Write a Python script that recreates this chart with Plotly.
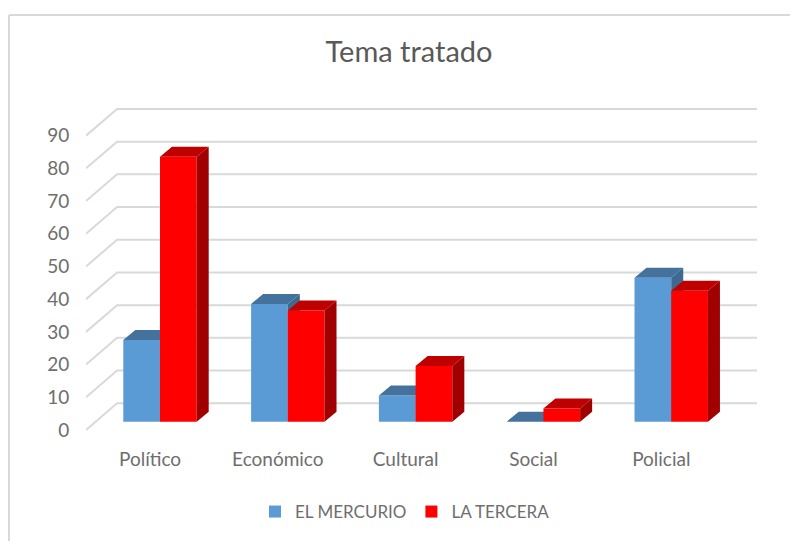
import plotly.graph_objects as go

categories = ["Político", "Económico", "Cultural", "Social", "Policial"]
el_mercurio = [25, 36, 8, 0, 44]
la_tercera = [81, 34, 17, 4, 40]
y_ticks = [0, 10, 20, 30, 40, 50, 60, 70, 80, 90]

# Oblique-projection constants, in axis units
BAR_W = 0.2872          # one bar's width
BAR_BASE = 2.54         # front plane of bars sits above the chart's front floor edge
DEPTH_X, DEPTH_Y = 0.0939, 3.06       # bar depth
WALL_X0, WALL_X1 = -0.579, -0.336     # left wall, front and back edges
WALL_Y = 8.17           # rise of the left wall
X_RIGHT = 4.671
LABEL_SHIFT = -0.078
GREY = "#d9d9d9"
TEXT = "#6e6e6e"

# The page body has an 8 px margin, so the figure is 8 px smaller and offsets are reduced
PAGE = 8
W, H = 798 - PAGE, 541 - PAGE
L, T = 86 - PAGE, 100 - PAGE
PW, PH = 671, 340

fig = go.Figure()

# Gridlines on the walls (lowest subplot layer)
for v in y_ticks:
    fig.add_trace(go.Scatter(
        x=[WALL_X0, WALL_X1, X_RIGHT], y=[v, v + WALL_Y, v + WALL_Y],
        mode="lines", line=dict(color=GREY, width=2), showlegend=False, hoverinfo="skip",
    ))


def add_series(values, name, offset, front, top, side, xa, ya):
    xs = list(range(len(values)))
    fig.add_trace(go.Bar(
        x=xs, y=values, base=[BAR_BASE] * len(values), offset=offset, width=BAR_W,
        name=name, marker=dict(color=front, line=dict(width=0)), xaxis=xa, yaxis=ya,
    ))
    for i, v in zip(xs, values):
        x0 = i + offset
        x1 = x0 + BAR_W
        y0 = BAR_BASE
        y1 = BAR_BASE + v
        fig.add_trace(go.Scatter(
            x=[x0, x1, x1 + DEPTH_X, x0 + DEPTH_X, x0],
            y=[y1, y1, y1 + DEPTH_Y, y1 + DEPTH_Y, y1],
            fill="toself", fillcolor=top, mode="lines", line=dict(width=0, color=top),
            showlegend=False, hoverinfo="skip", xaxis=xa, yaxis=ya,
        ))
        fig.add_trace(go.Scatter(
            x=[x1, x1 + DEPTH_X, x1 + DEPTH_X, x1, x1],
            y=[y0, y0 + DEPTH_Y, y1 + DEPTH_Y, y1, y0],
            fill="toself", fillcolor=side, mode="lines", line=dict(width=0, color=side),
            showlegend=False, hoverinfo="skip", xaxis=xa, yaxis=ya,
        ))


add_series(el_mercurio, "EL MERCURIO", -BAR_W, "#5b9bd5", "#44729d", "#3e6a92", "x2", "y2")
add_series(la_tercera, "LA TERCERA", 0, "#ff0000", "#bf0000", "#a00000", "x3", "y3")

font = dict(family="Lato", size=19, color=TEXT)
x_range = [WALL_X0, X_RIGHT]
y_range = [-3.06, 100.9]


def px_x(p):
    return (p - 86) / PW


def px_y(p):
    return (440 - p) / PH


fig.update_layout(
    width=W, height=H,
    margin=dict(l=L, r=W - L - PW, t=T, b=H - T - PH, autoexpand=False),
    paper_bgcolor="white", plot_bgcolor="rgba(0,0,0,0)",
    barmode="overlay",
    font=font,
    title=dict(text="Tema tratado", x=(409 - PAGE) / W, y=1 - (52 - PAGE) / H, xanchor="center", yanchor="middle",
               xref="container", yref="container",
               font=dict(family="Lato", size=29, color="#595959")),
    xaxis=dict(range=x_range, tickmode="array",
               tickvals=[i + LABEL_SHIFT for i in range(len(categories))], ticktext=categories,
               showgrid=False, zeroline=False, showline=False, ticks="outside", ticklen=2,
               tickcolor="rgba(0,0,0,0)", tickfont=font),
    yaxis=dict(range=y_range, tickmode="array", tickvals=y_ticks, ticktext=[str(t) for t in y_ticks],
               showgrid=False, zeroline=False, showline=False, ticks="outside", ticklen=12,
               tickcolor="rgba(0,0,0,0)", tickfont=font),
    xaxis2=dict(range=x_range, overlaying="x", visible=False),
    yaxis2=dict(range=y_range, overlaying="y", visible=False),
    xaxis3=dict(range=x_range, overlaying="x", visible=False),
    yaxis3=dict(range=y_range, overlaying="y", visible=False),
    legend=dict(orientation="h", x=px_x(405), xanchor="center", y=px_y(512), yanchor="middle",
                font=dict(family="Lato", size=17, color=TEXT), traceorder="normal"),
    shapes=[
        dict(type="line", xref="paper", yref="paper", x0=px_x(9), x1=px_x(798),
             y0=px_y(15), y1=px_y(15), line=dict(color=GREY, width=2)),
        dict(type="line", xref="paper", yref="paper", x0=px_x(9), x1=px_x(9),
             y0=px_y(15), y1=px_y(541), line=dict(color=GREY, width=2)),
    ],
)

fig.write_html("out.html")
